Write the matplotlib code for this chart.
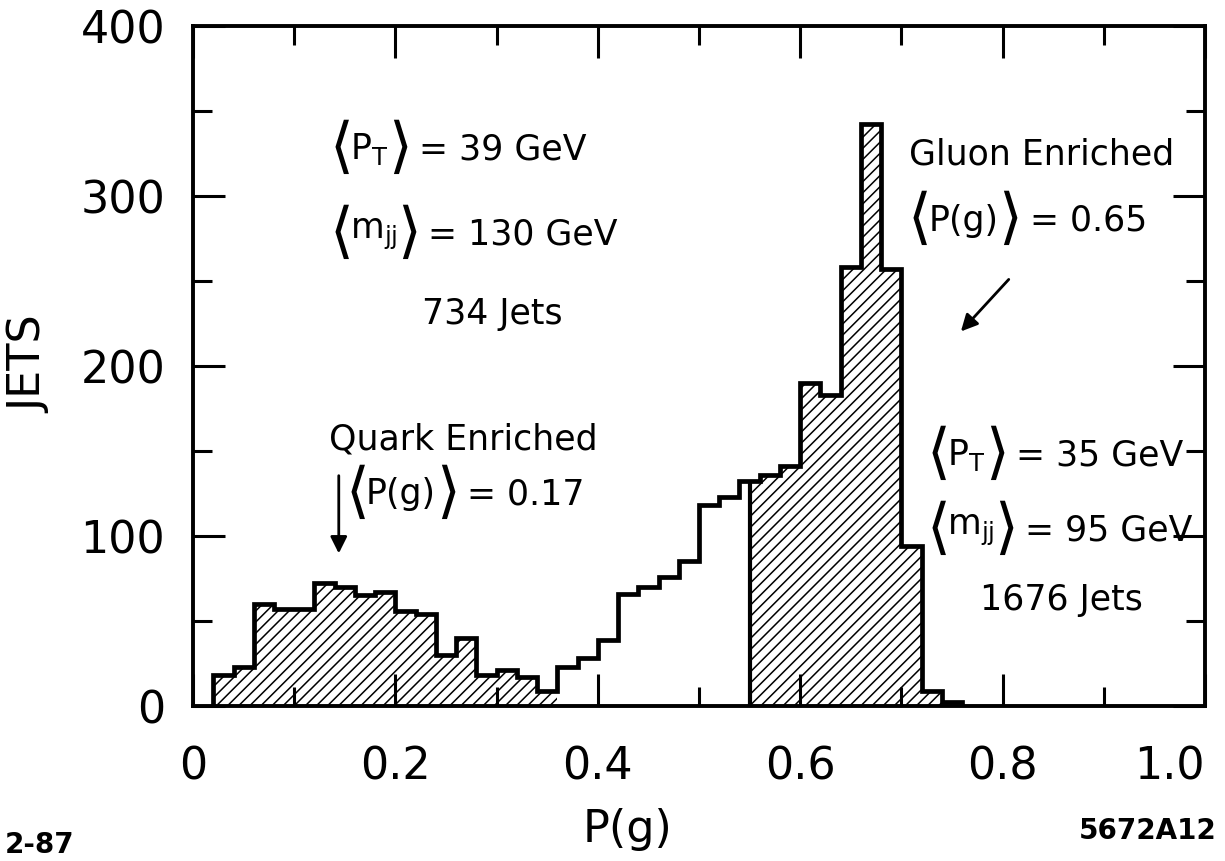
import numpy as np
import matplotlib
matplotlib.use('Agg')
import matplotlib.pyplot as plt

# bin edges of the P(g) histogram (width 0.02) and jet counts per bin
edges = np.round(np.arange(0.02, 0.7601, 0.02), 2)
jets = np.array([18, 23, 60, 57, 57, 72, 70, 65, 67, 56, 54, 30, 40, 18, 21, 17, 9,
                 23, 28, 39, 66, 70, 76, 85, 118, 123, 132, 136, 141, 190, 183,
                 258, 342, 257, 94, 9, 2])
quark_cut = 0.36   # hatched region below
gluon_cut = 0.55   # hatched region above

xticks = [0, 0.2, 0.4, 0.6, 0.8, 1.0]
xticklabels = ['0', '0.2', '0.4', '0.6', '0.8', '1.0']
yticks = [0, 100, 200, 300, 400]

plt.rcParams['font.family'] = ['DejaVu Sans']
plt.rcParams['mathtext.fontset'] = 'dejavusans'
plt.rcParams['hatch.linewidth'] = 1.1

fig = plt.figure(figsize=(12.25, 8.62), dpi=100)
ax = fig.add_axes([0.1576, 0.180, 0.826, 0.789])

# hatched quark-enriched part
qm = edges[:-1] < quark_cut - 1e-9
qx = np.append(edges[:-1][qm], quark_cut)
qy = np.append(jets[qm], jets[qm][-1])
ax.fill_between(qx, qy, step='post', facecolor='none', edgecolor='k', hatch='///', linewidth=0)

# hatched gluon-enriched part
i0 = np.searchsorted(edges, gluon_cut) - 1
gx = np.concatenate([[gluon_cut], edges[i0 + 1:]])
gy = np.append(jets[i0:], jets[-1])
ax.fill_between(gx, gy, step='post', facecolor='none', edgecolor='k', hatch='///', linewidth=0)
ax.vlines(gluon_cut, 0, jets[i0], color='k', lw=3)

# full histogram outline
ax.stairs(jets, edges, baseline=0, color='k', lw=3.4)

ax.set_xlim(0, 1.0)
ax.set_ylim(0, 400)
ax.set_xticks(xticks)
ax.set_xticklabels(xticklabels)
ax.set_xticks(np.arange(0.1, 1.0, 0.2), minor=True)
ax.set_yticks(yticks)
ax.set_yticks(np.arange(50, 400, 100), minor=True)
ax.tick_params(which='both', direction='in', top=True, right=True, width=2.2, labelsize=32)
ax.tick_params(which='major', length=23)
ax.tick_params(which='minor', length=14)
ax.tick_params(axis='x', pad=28)
ax.tick_params(axis='y', pad=20)
ax.get_xticklabels()[-1].set_horizontalalignment('right')
for s in ax.spines.values():
    s.set_linewidth(2.8)

fig.text(0.024, 0.577, 'JETS', rotation=90, fontsize=32, ha='center', va='center')
fig.text(0.512, 0.038, 'P(g)', fontsize=32, ha='center', va='center')
fig.text(0.004, 0.02, '2-87', fontsize=20, fontweight='bold', ha='left', va='center')
fig.text(0.993, 0.036, '5672A12', fontsize=20, fontweight='bold', ha='right', va='center')

fs = 25
bs = 44


def bracket_label(x, y, inner, rest):
    # big angle brackets around the inner text, chained left to right
    t = ax.text(x, y, r'$\langle$', fontsize=bs, va='center', ha='left')
    t = ax.annotate(inner, xy=(1, 0.5), xycoords=t, va='center', fontsize=fs)
    t = ax.annotate(r'$\rangle$', xy=(1, 0.5), xycoords=t, va='center', fontsize=bs)
    ax.annotate(rest, xy=(1, 0.5), xycoords=t, va='center', fontsize=fs)


bracket_label(0.134, 328, r'P$_\mathregular{T}$', ' = 39 GeV')
bracket_label(0.134, 278, r'm$_\mathregular{jj}$', ' = 130 GeV')
ax.text(0.296, 231, '734 Jets', fontsize=fs, ha='center', va='center')
ax.text(0.134, 157, 'Quark Enriched', fontsize=fs, va='center')
bracket_label(0.150, 125, 'P(g)', ' = 0.17')
ax.text(0.708, 325, 'Gluon Enriched', fontsize=fs, va='center')
bracket_label(0.706, 286, 'P(g)', ' = 0.65')
bracket_label(0.724, 148, r'P$_\mathregular{T}$', ' = 35 GeV')
bracket_label(0.724, 104, r'm$_\mathregular{jj}$', ' = 95 GeV')
ax.text(0.858, 63, '1676 Jets', fontsize=fs, ha='center', va='center')

ax.annotate('', xy=(0.144, 88), xytext=(0.144, 137),
            arrowprops=dict(arrowstyle='-|>', color='k', lw=2, mutation_scale=25))
ax.annotate('', xy=(0.757, 219), xytext=(0.808, 252),
            arrowprops=dict(arrowstyle='-|>', color='k', lw=2, mutation_scale=25))

fig.savefig('out.png', dpi=100)
